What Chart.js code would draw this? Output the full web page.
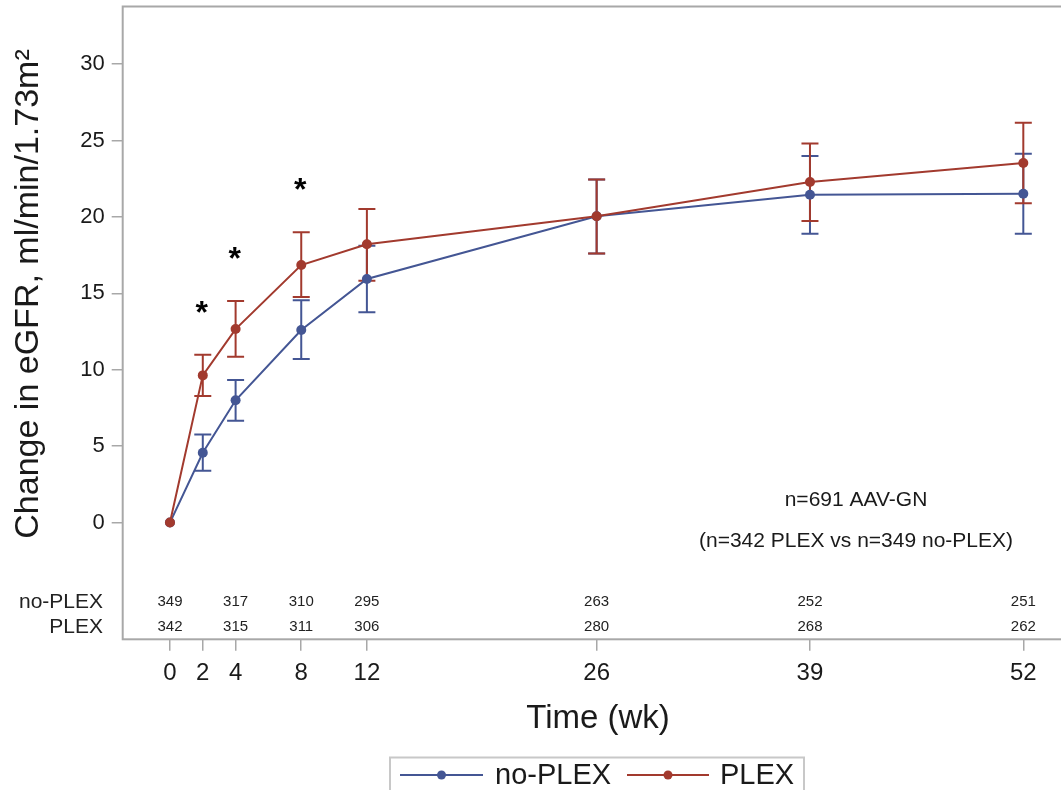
<!DOCTYPE html>
<html><head><meta charset="utf-8">
<script src="https://cdn.jsdelivr.net/npm/chart.js@4"></script>
<style>html,body{margin:0;padding:0;background:#fff;overflow:hidden}
#wrap{width:1061px;height:790px;overflow:hidden;position:relative;background:#fff}
canvas{display:block}</style></head><body>
<div id="wrap"><canvas id="c" width="1080" height="790"></canvas></div>
<script>
// ---- data ----
const weeks = [0, 2, 4, 8, 12, 26, 39, 52];
const xTickValues = [0, 2, 4, 8, 12, 26, 39, 52];
const yTickValues = [0, 5, 10, 15, 20, 25, 30];
const seriesNames = ['no-PLEX', 'PLEX'];
const noPlexMean  = [0, 4.57, 8.0, 12.6, 15.94, 20.04, 21.45, 21.52];
const noPlexLower = [0, 3.39, 6.66, 10.7, 13.76, 17.6, 18.9, 18.9];
const noPlexUpper = [0, 5.77, 9.33, 14.54, 18.12, 22.45, 23.98, 24.14];
const plexMean    = [0, 9.63, 12.66, 16.85, 18.21, 20.04, 22.28, 23.53];
const plexLower   = [0, 8.28, 10.85, 14.76, 15.82, 17.6, 19.73, 20.9];
const plexUpper   = [0, 10.98, 14.5, 18.99, 20.52, 22.45, 24.8, 26.16];
const sigWeeks = [2, 4, 8];
const nWeeks   = [0, 4, 8, 12, 26, 39, 52];
const noPlexN  = [349, 317, 310, 295, 263, 252, 251];
const plexN    = [342, 315, 311, 306, 280, 268, 262];
const yTitle = 'Change in eGFR, ml/min/1.73m\u00B2';
const xTitle = 'Time (wk)';
const noteLines = ['n=691 AAV-GN', '(n=342 PLEX vs n=349 no-PLEX)'];

// ---- style ----
const BLUE = '#445694', RED = '#A23A2E', FRAME = '#a8a8a8', TXT = '#1a1a1a';
const FONT = '"Liberation Sans", Arial, Helvetica, sans-serif';

function pts(ys) { return weeks.map((w, i) => ({x: w, y: ys[i]})); }
function noPad(s) { s.paddingTop = 0; s.paddingBottom = 0; s.paddingLeft = 0; s.paddingRight = 0; }

const custom = {
  id: 'custom',
  beforeDatasetsDraw(chart) {
    const ctx = chart.ctx, xs = chart.scales.x, ys = chart.scales.y;
    [0, 1].forEach(di => {
      const ds = chart.data.datasets[di];
      ctx.save();
      ctx.strokeStyle = ds.borderColor;
      ctx.lineWidth = 2;
      weeks.forEach((w, i) => {
        const lo = ds.errLow[i], hi = ds.errHigh[i];
        if (lo === hi) return;
        const x = xs.getPixelForValue(w);
        const y1 = ys.getPixelForValue(lo), y2 = ys.getPixelForValue(hi);
        ctx.beginPath();
        ctx.moveTo(x, y1); ctx.lineTo(x, y2);
        ctx.moveTo(x - 8.5, y1); ctx.lineTo(x + 8.5, y1);
        ctx.moveTo(x - 8.5, y2); ctx.lineTo(x + 8.5, y2);
        ctx.stroke();
      });
      ctx.restore();
    });
  },
  afterDraw(chart) {
    const ctx = chart.ctx, xs = chart.scales.x, ys = chart.scales.y, ca = chart.chartArea;
    ctx.save();
    // frame
    ctx.strokeStyle = FRAME; ctx.lineWidth = 2;
    ctx.strokeRect(ca.left, ca.top, ca.right - ca.left, ca.bottom - ca.top);
    // asterisks
    ctx.fillStyle = '#000';
    ctx.font = 'bold 32px ' + FONT;
    ctx.textAlign = 'center'; ctx.textBaseline = 'alphabetic';
    sigWeeks.forEach(w => {
      const i = weeks.indexOf(w);
      const x = xs.getPixelForValue(w);
      const y = ys.getPixelForValue(plexUpper[i]) - 47;
      ctx.fillText('*', x - 1, y + 15);
    });
    // at-risk table
    ctx.fillStyle = '#222';
    ctx.font = '15px ' + FONT;
    ctx.textAlign = 'center'; ctx.textBaseline = 'middle';
    nWeeks.forEach((w, i) => {
      const x = xs.getPixelForValue(w);
      ctx.fillText(String(noPlexN[i]), x, 602);
      ctx.fillText(String(plexN[i]), x, 627);
    });
    ctx.font = '21px ' + FONT;
    ctx.textAlign = 'right';
    ctx.fillText(seriesNames[0], 103, 602);
    ctx.fillText(seriesNames[1], 103, 627);
    // annotation
    ctx.fillStyle = TXT;
    ctx.font = '21px ' + FONT;
    ctx.textAlign = 'center';
    ctx.fillText(noteLines[0], 856, 500);
    ctx.fillText(noteLines[1], 856, 541);
    // axis titles
    ctx.font = '33px ' + FONT;
    ctx.fillText(xTitle, 598, 719);
    ctx.save();
    ctx.font = '34px ' + FONT;
    ctx.translate(29, 294);
    ctx.rotate(-Math.PI / 2);
    ctx.fillText(yTitle, 0, 0);
    ctx.restore();
    // legend
    ctx.strokeStyle = '#c8c8c8'; ctx.lineWidth = 2;
    ctx.strokeRect(390, 757.5, 414, 50);
    const items = [
      {name: chart.data.datasets[0].label, color: chart.data.datasets[0].borderColor, x0: 400, x1: 483, tx: 495},
      {name: chart.data.datasets[1].label, color: chart.data.datasets[1].borderColor, x0: 627, x1: 709, tx: 720}
    ];
    items.forEach(it => {
      ctx.strokeStyle = it.color; ctx.lineWidth = 2;
      ctx.beginPath(); ctx.moveTo(it.x0, 775); ctx.lineTo(it.x1, 775); ctx.stroke();
      ctx.fillStyle = it.color;
      ctx.beginPath(); ctx.arc((it.x0 + it.x1) / 2, 775, 4.5, 0, Math.PI * 2); ctx.fill();
      ctx.fillStyle = TXT;
      ctx.font = '29px ' + FONT;
      ctx.textAlign = 'left'; ctx.textBaseline = 'middle';
      ctx.fillText(it.name, it.tx, 776);
    });
    ctx.restore();
  }
};

new Chart(document.getElementById('c'), {
  type: 'line',
  data: {
    datasets: [
      {label: seriesNames[0], data: pts(noPlexMean), errLow: noPlexLower, errHigh: noPlexUpper,
       borderColor: BLUE, backgroundColor: BLUE, borderWidth: 2, pointRadius: 5, pointBorderWidth: 0,
       pointBackgroundColor: BLUE, tension: 0, order: 1},
      {label: seriesNames[1], data: pts(plexMean), errLow: plexLower, errHigh: plexUpper,
       borderColor: RED, backgroundColor: RED, borderWidth: 2, pointRadius: 5, pointBorderWidth: 0,
       pointBackgroundColor: RED, tension: 0, order: 0}
    ]
  },
  options: {
    responsive: false, animation: false, devicePixelRatio: 1,
    layout: {padding: {left: 0, top: 6.5, right: 5, bottom: 0}, autoPadding: false},
    plugins: {legend: {display: false}, tooltip: {enabled: false}},
    scales: {
      x: {
        type: 'linear', min: -2.88, max: 55.15,
        afterBuildTicks(s) { s.ticks = xTickValues.map(v => ({value: v})); },
        afterFit(s) { s.height = 150.7; noPad(s); },
        border: {display: false},
        grid: {drawOnChartArea: false, drawTicks: true, tickLength: 11.5, color: FRAME, lineWidth: 1.5},
        ticks: {color: TXT, font: {size: 24, family: FONT}, padding: 8, maxRotation: 0, autoSkip: false}
      },
      y: {
        min: -7.64, max: 33.77,
        afterBuildTicks(s) { s.ticks = yTickValues.map(v => ({value: v})); },
        afterFit(s) { s.width = 122.7; noPad(s); },
        border: {display: false},
        grid: {drawOnChartArea: false, drawTicks: true, tickLength: 11, color: FRAME, lineWidth: 1.5},
        ticks: {color: TXT, font: {size: 22, family: FONT}, padding: 7}
      }
    }
  },
  plugins: [custom]
});
</script>
</body></html>
